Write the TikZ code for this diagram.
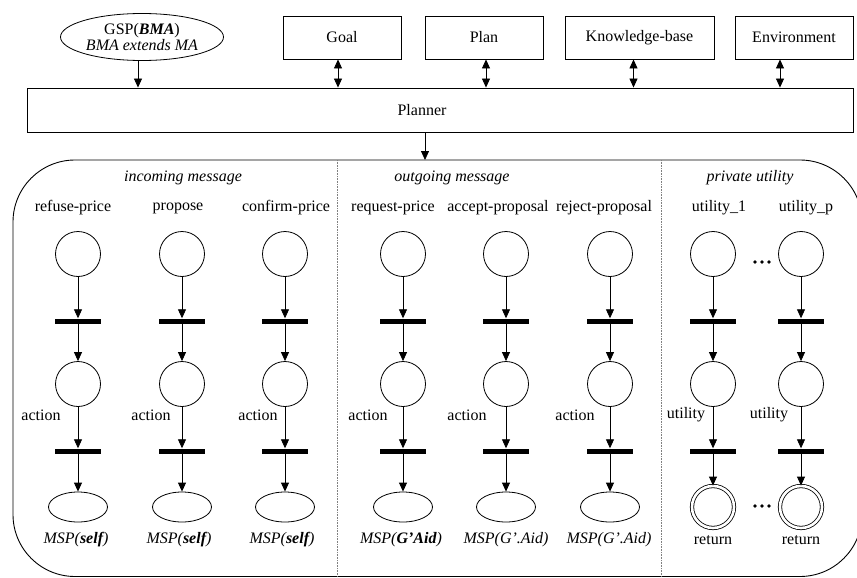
\documentclass[tikz,border=0pt]{standalone}
\usepackage{fontspec}
\setmainfont{Liberation Serif}
\usetikzlibrary{arrows.meta,shapes.geometric}
\begin{document}
\begin{tikzpicture}[x=1pt,y=-1pt,
  every node/.style={font=\fontsize{16}{19}\selectfont},
  box/.style={draw,line width=0.9pt,minimum height=43,inner sep=0},
  place/.style={draw,circle,line width=0.8pt,minimum size=45,inner sep=0},
  fin/.style={draw,circle,line width=0.8pt,double,double distance=2.6pt,minimum size=42,inner sep=0},
  bar/.style={fill=black,minimum width=46,minimum height=5,inner sep=0},
  oval/.style={draw,ellipse,line width=0.8pt,minimum width=59,minimum height=30,inner sep=0},
  arr/.style={line width=0.8pt,-{Triangle[length=9pt,width=8pt]}},
  darr/.style={line width=0.8pt,{Triangle[length=9pt,width=8pt]}-{Triangle[length=9pt,width=8pt]}},
  divider/.style={gray,densely dotted,line width=0.6pt},
  sect/.style={font=\fontsize{16}{19}\selectfont\itshape}]
\useasboundingbox (0,0) rectangle (857,578);
\clip (0,0) rectangle (857,578);

% top row
\node[draw,ellipse,line width=0.8pt,minimum width=163,minimum height=47,inner sep=0,align=center] (gsp) at (142,37) {GSP(\textbf{\textit{BMA}})\\[-3pt]\textit{BMA extends MA}};
\node[box,minimum width=118] (goal) at (342,37.5) {Goal};
\node[box,minimum width=118] (plan) at (484,37.5) {Plan};
\node[box,minimum width=149] (kb) at (639.5,37.5) {Knowledge-base};
\node[box,minimum width=118] (env) at (794,37.5) {Environment};

\node[box,minimum width=826,minimum height=44,label={[xshift=-18pt]center:Planner}] (planner) at (440,110) {};

\draw[arr] ([xshift=-4pt]gsp.south) -- ([xshift=-4pt]gsp.south |- planner.north);
\draw[darr] ([xshift=-4pt]goal.south) -- ([xshift=-4pt]goal.south |- planner.north);
\draw[darr] ([xshift=2pt]plan.south) -- ([xshift=2pt]plan.south |- planner.north);
\draw[darr] ([xshift=-6pt]kb.south) -- ([xshift=-6pt]kb.south |- planner.north);
\draw[darr] ([xshift=-14pt]env.south) -- ([xshift=-14pt]env.south |- planner.north);

% region
\coordinate (regtop) at (425,160);
\draw[line width=0.9pt,rounded corners=62pt] (13,160) rectangle (862,576.5);
\draw[arr] (planner.south -| regtop) -- (regtop);
\draw[divider] (337,160) -- (337,578);
\draw[divider] (661,160) -- (661,578);

\node[sect] (s1) at (183,178) {incoming message};
\node[sect] (s2) at (452,178) {outgoing message};
\node[sect] (s3) at (750,178) {private utility};

\foreach \i/\x/\lx/\name/\ax/\act in {1/78/73/refuse-price/41/action, 2/182/178/propose/151/action, 3/285/286/confirm-price/258/action, 4/403/393/request-price/368/action, 5/506/498/accept-proposal/467/action, 6/610/604/reject-proposal/575/action, 7/713/719/utility\_1/686/utility, 8/801/806/utility\_p/769/utility}{
  \node (t\i) at (\lx,208) {\name};
  \node[place] (a\i) at (\x,254) {};
  \node[bar] (b\i) at (\x,321) {};
  \node[place] (c\i) at (\x,384) {};
  \node[bar] (d\i) at (\x,451) {};
  \node (l\i) at (\ax,415) {\act};
  \draw[arr] (a\i) -- (b\i);
  \draw[arr] (b\i) -- (c\i);
  \draw[arr] (c\i) -- (d\i);
}
\foreach \i/\x in {1/78,2/182,3/285,4/403,5/506,6/610}{
  \node[oval] (e\i) at (\x,507) {};
  \draw[arr] (d\i) -- (e\i);
}
\foreach \i/\x in {7/713,8/801}{
  \node[fin] (e\i) at (\x,507) {};
  \draw[arr] (d\i) -- (e\i);
  \node (r\i) at (\x,540) {return};
}

\node (m1) at (76,540) {\textit{MSP(\textbf{self})}};
\node (m2) at (179,540) {\textit{MSP(\textbf{self})}};
\node (m3) at (282,540) {\textit{MSP(\textbf{self})}};
\node (m4) at (401,540) {\textit{MSP(\textbf{G’Aid})}};
\node (m5) at (506,540) {\textit{MSP(G’.Aid)}};
\node (m6) at (609,540) {\textit{MSP(G’.Aid)}};

\foreach \dx in {-7,0,7}{
  \fill (762+\dx,262) circle (1.9pt);
  \fill (762+\dx,506) circle (1.9pt);
}
\end{tikzpicture}
\end{document}
